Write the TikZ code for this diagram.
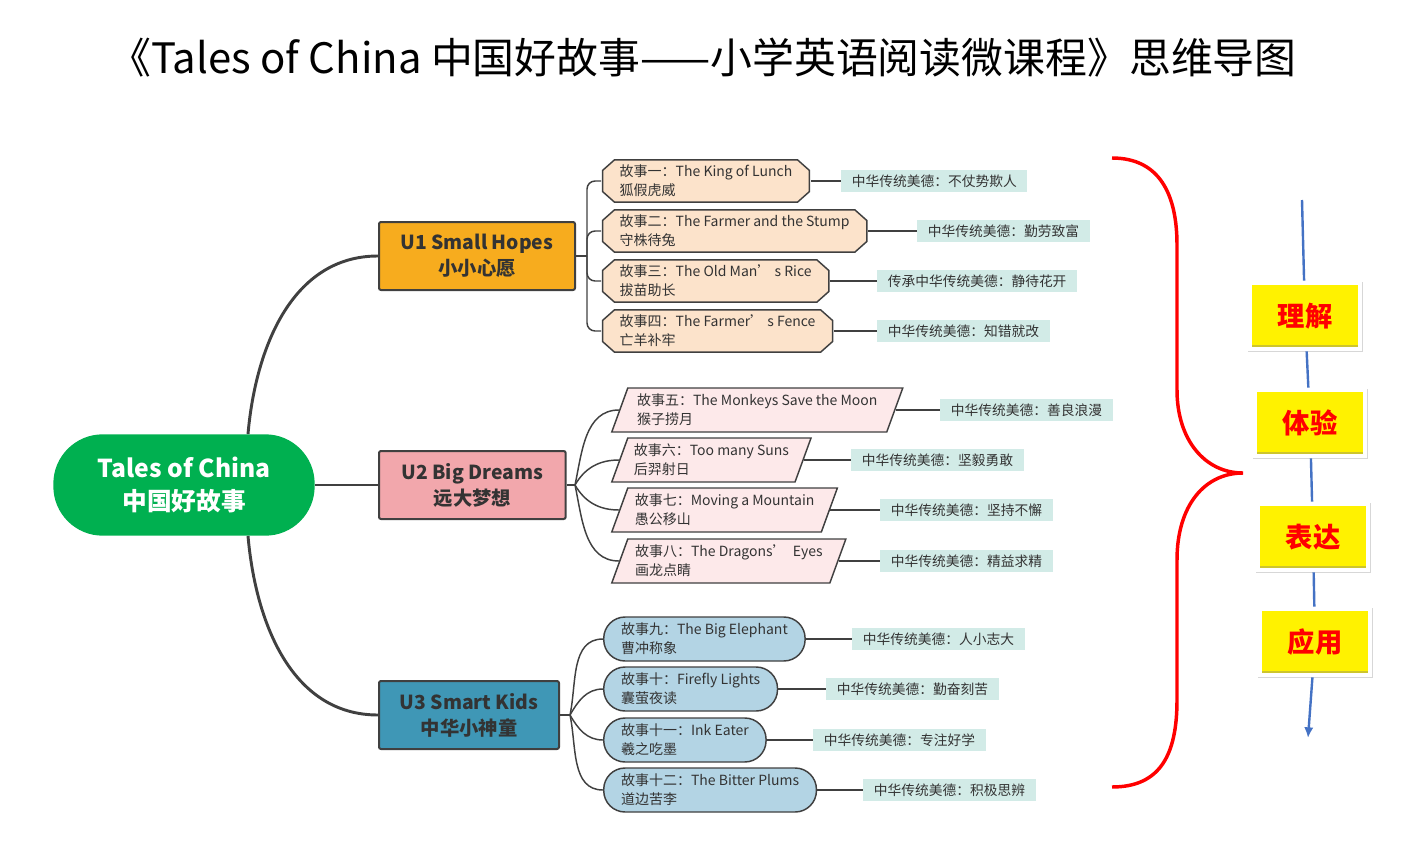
\documentclass[tikz,border=0pt]{standalone}
\usepackage{fontspec}
\setmainfont{Noto Sans CJK SC}
\usetikzlibrary{shapes.geometric,arrows.meta,shadows}
\definecolor{linegray}{HTML}{404040}
\definecolor{textgray}{HTML}{333333}
\definecolor{rootgreen}{HTML}{00B050}
\definecolor{uonecol}{HTML}{F7AC1E}
\definecolor{utwocol}{HTML}{F2A7AC}
\definecolor{uthreecol}{HTML}{3F97B6}
\definecolor{peach}{HTML}{FCE3CB}
\definecolor{rose}{HTML}{FDE9EA}
\definecolor{skyblue}{HTML}{B3D4E4}
\definecolor{valuecol}{HTML}{D2EBE7}
\definecolor{arrowblue}{HTML}{4472C4}
\begin{document}
\begin{tikzpicture}[x=0.75pt,y=-0.75pt,
    trunk/.style={draw=linegray, line width=2.2pt},
    twig/.style={draw=linegray, line width=1.1pt, rounded corners=6pt},
    root/.style={fill=rootgreen, text=white, align=center,
      font=\bfseries\fontsize{18.5}{25}\selectfont,
      rounded corners=37pt, minimum width=196pt, minimum height=76pt},
    unit/.style={draw=linegray, line width=1.5pt, rounded corners=1.5pt,
      anchor=west, align=center, text=textgray, minimum height=51pt,
      font=\bfseries\fontsize{14.5}{19.5}\selectfont},
    story/.style={draw=linegray, line width=1.1pt, anchor=west, align=left,
      text=textgray, minimum height=33pt,
      font=\fontsize{10.5}{14.25}\selectfont},
    storya/.style={story, draw=none, fill=white, inner xsep=13.5pt,
      path picture={
        \coordinate (nw) at ([shift={(0.6pt,-0.6pt)}]path picture bounding box.north west);
        \coordinate (se) at ([shift={(-0.6pt,0.6pt)}]path picture bounding box.south east);
        \draw[draw=linegray, line width=1.1pt, fill=peach]
          ([xshift=9pt]nw) -- ([xshift=-9pt]nw -| se) -- ([yshift=-8pt]nw -| se)
          -- ([yshift=8pt]se) -- ([xshift=-9pt]se) -- ([xshift=9pt]se -| nw)
          -- ([yshift=8pt]se -| nw) -- ([yshift=-8pt]nw) -- cycle;}},
    storyb/.style={story, trapezium, fill=rose, trapezium left angle=70,
      trapezium right angle=110, inner xsep=0pt},
    storyc/.style={story, rectangle, fill=skyblue, rounded corners=16pt,
      inner xsep=13pt},
    value/.style={fill=valuecol, anchor=west, text=textgray, inner xsep=8pt,
      minimum height=16.5pt, font=\fontsize{10.3}{12}\selectfont},
    stage/.style={fill=yellow, draw=white, line width=3pt, text=red,
      minimum width=82pt, minimum height=50pt,
      general shadow={fill=black!35, shadow scale=1.05, shadow xshift=0.6pt,
        shadow yshift=-0.6pt, opacity=0.45},
      font=\bfseries\fontsize{20.5}{24}\selectfont,
      path picture={\fill[yellow!78!black] (path picture bounding box.south west)
        rectangle ([yshift=3pt]path picture bounding box.south east);}}]
\useasboundingbox (0,0) rectangle (1414,846);
% Title
\node[font=\fontsize{31.4}{36}\selectfont, text=black] (title) at (703,58)
  {《Tales of China 中国好故事——小学英语阅读微课程》思维导图};
% Centre and units
\node[root] (root) at (184,485) {Tales of China\\中国好故事};
\node[unit, fill=uonecol, minimum width=147pt] (u1) at (378,256) {U1 Small Hopes\\小小心愿};
\node[unit, fill=utwocol, minimum width=140pt] (u2) at (378,485) {U2 Big Dreams\\远大梦想};
\node[unit, fill=uthreecol, minimum width=135pt] (u3) at (378,715) {U3 Smart Kids\\中华小神童};
\draw[trunk] ([xshift=48pt]root.north) to[out=85,in=180] (u1.west);
\draw[trunk] (root.east) -- (u2.west);
\draw[trunk] ([xshift=48pt]root.south) to[out=-85,in=180] (u3.west);
% U1 stories
\node[storya] (s1) at (601,181) {故事一：The King of Lunch\\狐假虎威};
\node[storya] (s2) at (601,231) {故事二：The Farmer and the Stump\\守株待兔};
\node[storya] (s3) at (601,281) {故事三：The Old Man’ s Rice\\拔苗助长};
\node[storya] (s4) at (601,331) {故事四：The Farmer’ s Fence\\亡羊补牢};
\coordinate (u1b) at (587,256);
\draw[twig] (u1.east) -- (u1b);
\draw[twig] (u1b) |- (s1.west);
\draw[twig] (u1b) |- (s2.west);
\draw[twig] (u1b) |- (s3.west);
\draw[twig] (u1b) |- (s4.west);
\node[value] (v1) at (841,181) {中华传统美德：不仗势欺人};
\node[value] (v2) at (917,231) {中华传统美德：勤劳致富};
\node[value] (v3) at (877,281) {传承中华传统美德：静待花开};
\node[value] (v4) at (877,331) {中华传统美德：知错就改};
\draw[twig] (s1.east) -- (v1.west);
\draw[twig] (s2.east) -- (v2.west);
\draw[twig] (s3.east) -- (v3.west);
\draw[twig] (s4.east) -- (v4.west);
% U2 stories
\node[storyb] (s5) at (619,410) {故事五：The Monkeys Save the Moon\\猴子捞月};
\node[storyb] (s6) at (619,460) {故事六：Too many Suns\\后羿射日};
\node[storyb] (s7) at (619,510) {故事七：Moving a Mountain\\愚公移山};
\node[storyb] (s8) at (619,561) {故事八：The Dragons’\ \ Eyes\\画龙点睛};
\coordinate (u2b) at (575,485);
\draw[twig] (u2.east) -- (u2b);
\draw[twig] (u2b) to[out=78,in=180] (s5.west);
\draw[twig] (u2b) to[out=60,in=180] (s6.west);
\draw[twig] (u2b) to[out=-60,in=180] (s7.west);
\draw[twig] (u2b) to[out=-78,in=180] (s8.west);
\node[value] (v5) at (940,410) {中华传统美德：善良浪漫};
\node[value] (v6) at (851,460) {中华传统美德：坚毅勇敢};
\node[value] (v7) at (880,510) {中华传统美德：坚持不懈};
\node[value] (v8) at (880,561) {中华传统美德：精益求精};
\draw[twig] (s5.east) -- (v5.west);
\draw[twig] (s6.east) -- (v6.west);
\draw[twig] (s7.east) -- (v7.west);
\draw[twig] (s8.east) -- (v8.west);
% U3 stories
\node[storyc] (s9) at (603,639) {故事九：The Big Elephant\\曹冲称象};
\node[storyc] (s10) at (603,689) {故事十：Firefly Lights\\囊萤夜读};
\node[storyc] (s11) at (603,740) {故事十一：Ink Eater\\羲之吃墨};
\node[storyc] (s12) at (603,790) {故事十二：The Bitter Plums\\道边苦李};
\coordinate (u3b) at (570,715);
\draw[twig] (u3.east) -- (u3b);
\draw[twig] (u3b) to[out=78,in=180] (s9.west);
\draw[twig] (u3b) to[out=60,in=180] (s10.west);
\draw[twig] (u3b) to[out=-60,in=180] (s11.west);
\draw[twig] (u3b) to[out=-78,in=180] (s12.west);
\node[value] (v9) at (852,639) {中华传统美德：人小志大};
\node[value] (v10) at (826,689) {中华传统美德：勤奋刻苦};
\node[value] (v11) at (813,740) {中华传统美德：专注好学};
\node[value] (v12) at (863,790) {中华传统美德：积极思辨};
\draw[twig] (s9.east) -- (v9.west);
\draw[twig] (s10.east) -- (v10.west);
\draw[twig] (s11.east) -- (v11.west);
\draw[twig] (s12.east) -- (v12.west);
% Brace
\draw[red, line width=2.6pt] (1112,158) .. controls (1160,158) and (1177,195) .. (1177,245)
  -- (1177,390) .. controls (1177,440) and (1205,473) .. (1243,473)
  .. controls (1205,473) and (1177,505) .. (1177,560)
  -- (1177,700) .. controls (1177,755) and (1160,787) .. (1112,787);
% Stages
\coordinate (atop) at (1302,200);
\coordinate (abot) at (1308,738);
\node[stage] (b1) at (1305,316) {理解};
\node[stage] (b2) at (1310,423) {体验};
\node[stage] (b3) at (1313,537) {表达};
\node[stage] (b4) at (1315,642) {应用};
\draw[arrowblue, line width=1.8pt, -{Latex[length=8pt,width=7pt]}]
  (atop) -- (b1) -- (b2) -- (b3) -- (b4) -- (abot);
\end{tikzpicture}
\end{document}
